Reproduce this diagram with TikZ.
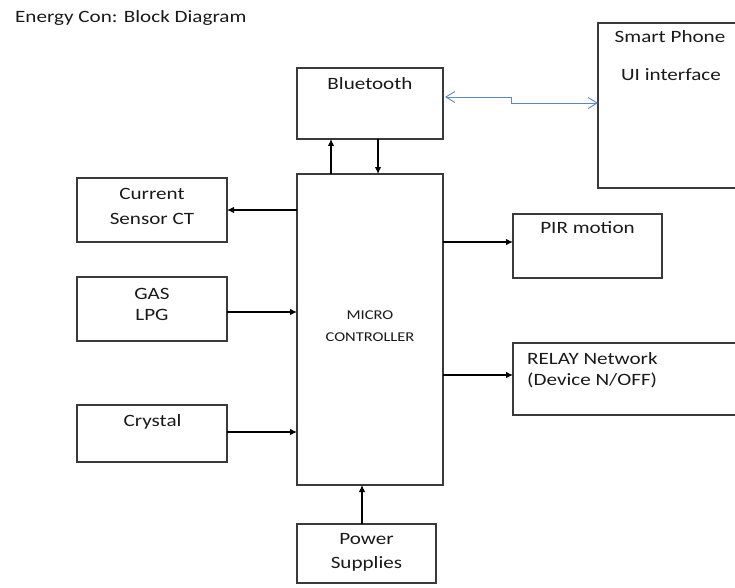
\documentclass[tikz,border=0pt]{standalone}
\usepackage{fontspec}
\setmainfont{Carlito}[FakeStretch=1.22]
\usetikzlibrary{arrows.meta,calc}
\definecolor{boxline}{HTML}{3A3A3A}
\definecolor{txt}{HTML}{1A1A1A}
\definecolor{btblue}{HTML}{5B87C8}
\tikzset{
  blk/.style={draw=boxline,line width=1.3pt,rectangle,inner sep=0pt,outer sep=0pt},
  lbl/.style={anchor=base,text=txt,inner sep=0pt,font=\fontsize{17.3}{20}\selectfont},
  small/.style={anchor=base,text=txt,inner sep=0pt,font=\fontsize{13.5}{15}\selectfont},
  arr/.style={draw=black,line width=1.1pt,-{Latex[length=7pt,width=6.5pt]}},
  wless/.style={draw=btblue,line width=0.9pt,{Straight Barb[length=9pt,width=11pt]}-{Straight Barb[length=9pt,width=11pt]}}
}
\begin{document}
\begin{tikzpicture}[x=1pt,y=-1pt]
\useasboundingbox (0,0) rectangle (735,588);
\fill[white] (0,0) rectangle (735,588);
% title
\node[lbl,anchor=base west] (title) at (15,23) {Energy Con: Block Diagram};
% boxes
\node[blk,minimum width=146pt,minimum height=71pt] (bt) at (370,103.5) {};
\node[blk,minimum width=146pt,minimum height=311pt] (mc) at (370,329.5) {};
\node[blk,minimum width=150pt,minimum height=165pt] (sp) at (673,105.5) {};
\node[blk,minimum width=150pt,minimum height=64pt] (cs) at (152,210) {};
\node[blk,minimum width=150pt,minimum height=64pt] (gas) at (152,309) {};
\node[blk,minimum width=150pt,minimum height=57pt] (cr) at (152,433.5) {};
\node[blk,minimum width=149pt,minimum height=64pt] (pir) at (587.5,246) {};
\node[blk,minimum width=235pt,minimum height=72pt] (rl) at (630.5,379) {};
\node[blk,minimum width=139pt,minimum height=59pt] (ps) at (366.5,553.5) {};
% labels
\node[lbl] (btt) at (370,90) {Bluetooth};
\node[lbl] (spt1) at (670,43) {Smart Phone};
\node[lbl] (spt2) at (671,81) {UI interface};
\node[lbl] (cst1) at (152,199) {Current};
\node[lbl] (cst2) at (152,224) {Sensor CT};
\node[lbl] (gast1) at (152,299) {GAS};
\node[lbl] (gast2) at (152,320) {LPG};
\node[lbl] (crt) at (152.5,426) {Crystal};
\node[small] (mct1) at (370,319) {MICRO};
\node[small] (mct2) at (370,341) {CONTROLLER};
\node[lbl] (pirt) at (587.5,233) {PIR motion};
\node[lbl,anchor=base west] (rlt1) at (527,364) {RELAY Network};
\node[lbl,anchor=base west] (rlt2) at (527,385) {(Device N/OFF)};
\node[lbl] (pst1) at (366.5,544) {Power};
\node[lbl] (pst2) at (366.5,568) {Supplies};
% connectors
\draw[arr] (mc.west |- cs.east) -- (cs.east);
\coordinate (g1) at ([yshift=-3pt]gas.east);
\draw[arr] (g1) -- (g1 -| mc.west);
\coordinate (c1) at ([yshift=1.5pt]cr.east);
\draw[arr] (c1) -- (c1 -| mc.west);
\coordinate (p1) at ([yshift=4pt]pir.west);
\draw[arr] (p1 -| mc.east) -- (p1);
\coordinate (r1) at ([yshift=4pt]rl.west);
\draw[arr] (r1 -| mc.east) -- (r1);
\coordinate (u1) at ([xshift=-39pt]mc.north);
\draw[arr] (u1) -- (u1 |- bt.south);
\coordinate (d1) at ([xshift=8pt]bt.south);
\draw[arr] (d1) -- (d1 |- mc.north);
\coordinate (s1) at ([xshift=-4.5pt]ps.north);
\draw[arr] (s1) -- (s1 |- mc.south);
\coordinate (w1) at ([yshift=6.5pt]bt.east);
\coordinate (w2) at ([yshift=2.5pt]sp.west);
\draw[wless] ([xshift=2pt]w1) -- (511,97) -- (511,103) -- (w2);
\end{tikzpicture}
\end{document}
